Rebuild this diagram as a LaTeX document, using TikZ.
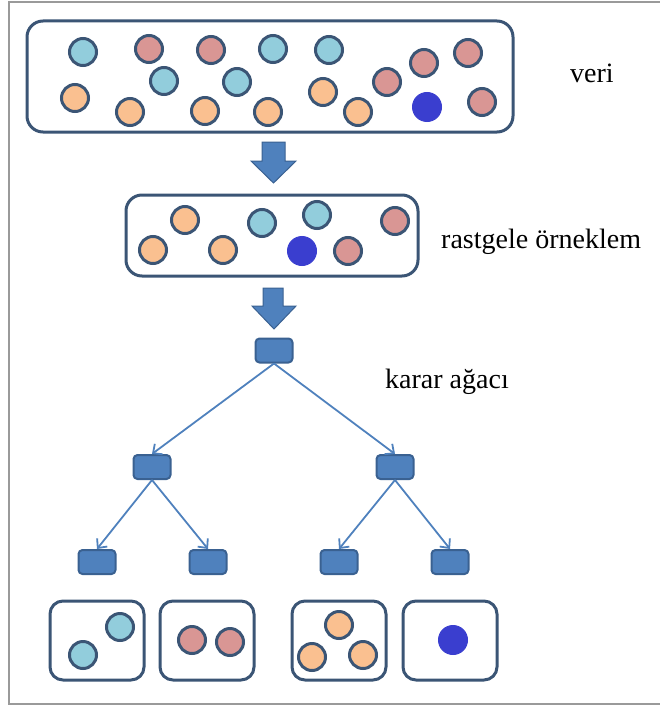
\documentclass[tikz,border=0pt]{standalone}
\usepackage{fontspec}
\setmainfont{Liberation Serif}
\newfontfamily\capfont{Liberation Serif}
\usetikzlibrary{arrows.meta}
\definecolor{edgeblue}{HTML}{3B5575}
\definecolor{cblue}{HTML}{92CDDC}
\definecolor{cpink}{HTML}{D99694}
\definecolor{corange}{HTML}{FAC090}
\definecolor{cdark}{HTML}{3A3ECF}
\definecolor{tnode}{HTML}{4F81BD}
\definecolor{tborder}{HTML}{3A6191}
\definecolor{framegray}{HTML}{9A9A9A}
\begin{document}
\begin{tikzpicture}[x=1pt,y=-1pt,
  ball/.style={circle, draw=edgeblue, line width=3pt, minimum size=27pt, inner sep=0pt},
  bl/.style={ball, fill=cblue},
  pk/.style={ball, fill=cpink},
  og/.style={ball, fill=corange},
  dk/.style={circle, fill=cdark, draw=cdark, line width=1pt, minimum size=29pt, inner sep=0pt},
  group/.style={draw=edgeblue, line width=3pt, rounded corners=16pt, inner sep=0pt},
  leafbox/.style={group, rounded corners=13pt, minimum width=94pt, minimum height=79pt},
  treenode/.style={draw=tborder, fill=tnode, line width=2pt, rounded corners=4pt,
    minimum width=37pt, minimum height=24pt, inner sep=0pt},
  link/.style={draw=tnode, line width=1.8pt, -{Straight Barb[length=7pt,width=13pt]}},
  blockarrow/.style={fill=tnode, draw=tborder, line width=1pt, line join=miter},
  caption/.style={font=\capfont\fontsize{28}{30}\selectfont, anchor=base west, inner sep=0pt}]

\useasboundingbox (0,0) rectangle (660,706);
\draw[framegray, line width=2pt] (660,2) -- (9,2) -- (9,704) -- (660,704);

% full data set
\node[group, minimum width=486pt, minimum height=111pt] (data) at (270,76.5) {};
\node[bl] (d1) at (83,52) {};
\node[pk] (d2) at (149,49) {};
\node[pk] (d3) at (211,50) {};
\node[bl] (d4) at (273,49) {};
\node[bl] (d5) at (329,50) {};
\node[bl] (d6) at (164,81) {};
\node[bl] (d7) at (237,82) {};
\node[og] (d8) at (75,98) {};
\node[og] (d9) at (130,112) {};
\node[og] (d10) at (205,111) {};
\node[og] (d11) at (268,112) {};
\node[og] (d12) at (323,92) {};
\node[og] (d13) at (358,112) {};
\node[pk] (d14) at (387,82) {};
\node[pk] (d15) at (424,63) {};
\node[pk] (d16) at (468,53) {};
\node[dk] (d17) at (427,107) {};
\node[pk] (d18) at (482,102) {};
\node[caption] (lveri) at (570,83) {veri};

% block arrow to the sample
\draw[blockarrow] (262,142) -- (285,142) -- (285,161) -- (296,161) -- (273.5,183)
  -- (251,161) -- (262,161) -- cycle;

% random sample
\node[group, minimum width=292pt, minimum height=81pt] (sample) at (272,235.5) {};
\node[og] (s1) at (185,220) {};
\node[og] (s2) at (153,250) {};
\node[og] (s3) at (223,250) {};
\node[bl] (s4) at (262,223) {};
\node[bl] (s5) at (317,215) {};
\node[dk] (s6) at (302,251) {};
\node[pk] (s7) at (348,251) {};
\node[pk] (s8) at (395,221) {};
\node[caption] (lsample) at (441,248) {rastgele örneklem};

% block arrow to the tree
\draw[blockarrow] (263,288) -- (283,288) -- (283,306) -- (296,306) -- (274,329)
  -- (252,306) -- (263,306) -- cycle;

% decision tree
\node[treenode] (root) at (274,350.5) {};
\node[treenode] (l) at (152,467) {};
\node[treenode] (r) at (395,467) {};
\node[treenode] (ll) at (97,562) {};
\node[treenode] (lr) at (208,562) {};
\node[treenode] (rl) at (339,562) {};
\node[treenode] (rr) at (450,562) {};
\node[caption] (ltree) at (385,388) {karar ağacı};

\draw[link] (root.south) -- (l.north);
\draw[link] (root.south) -- (r.north);
\draw[link] (l.south) -- (ll.north);
\draw[link] (l.south) -- (lr.north);
\draw[link] (r.south) -- (rl.north);
\draw[link] (r.south) -- (rr.north);

% leaf groups
\node[leafbox] (g1) at (97,640.5) {};
\node[leafbox] (g2) at (207,640.5) {};
\node[leafbox] (g3) at (339,640.5) {};
\node[leafbox] (g4) at (450,640.5) {};
\node[bl] (a1) at (120,627) {};
\node[bl] (a2) at (83,655) {};
\node[pk] (b1) at (192,640) {};
\node[pk] (b2) at (230,642) {};
\node[og] (c1) at (339,625) {};
\node[og] (c2) at (312,657) {};
\node[og] (c3) at (363,655) {};
\node[dk] (e1) at (453,640) {};
\end{tikzpicture}
\end{document}
